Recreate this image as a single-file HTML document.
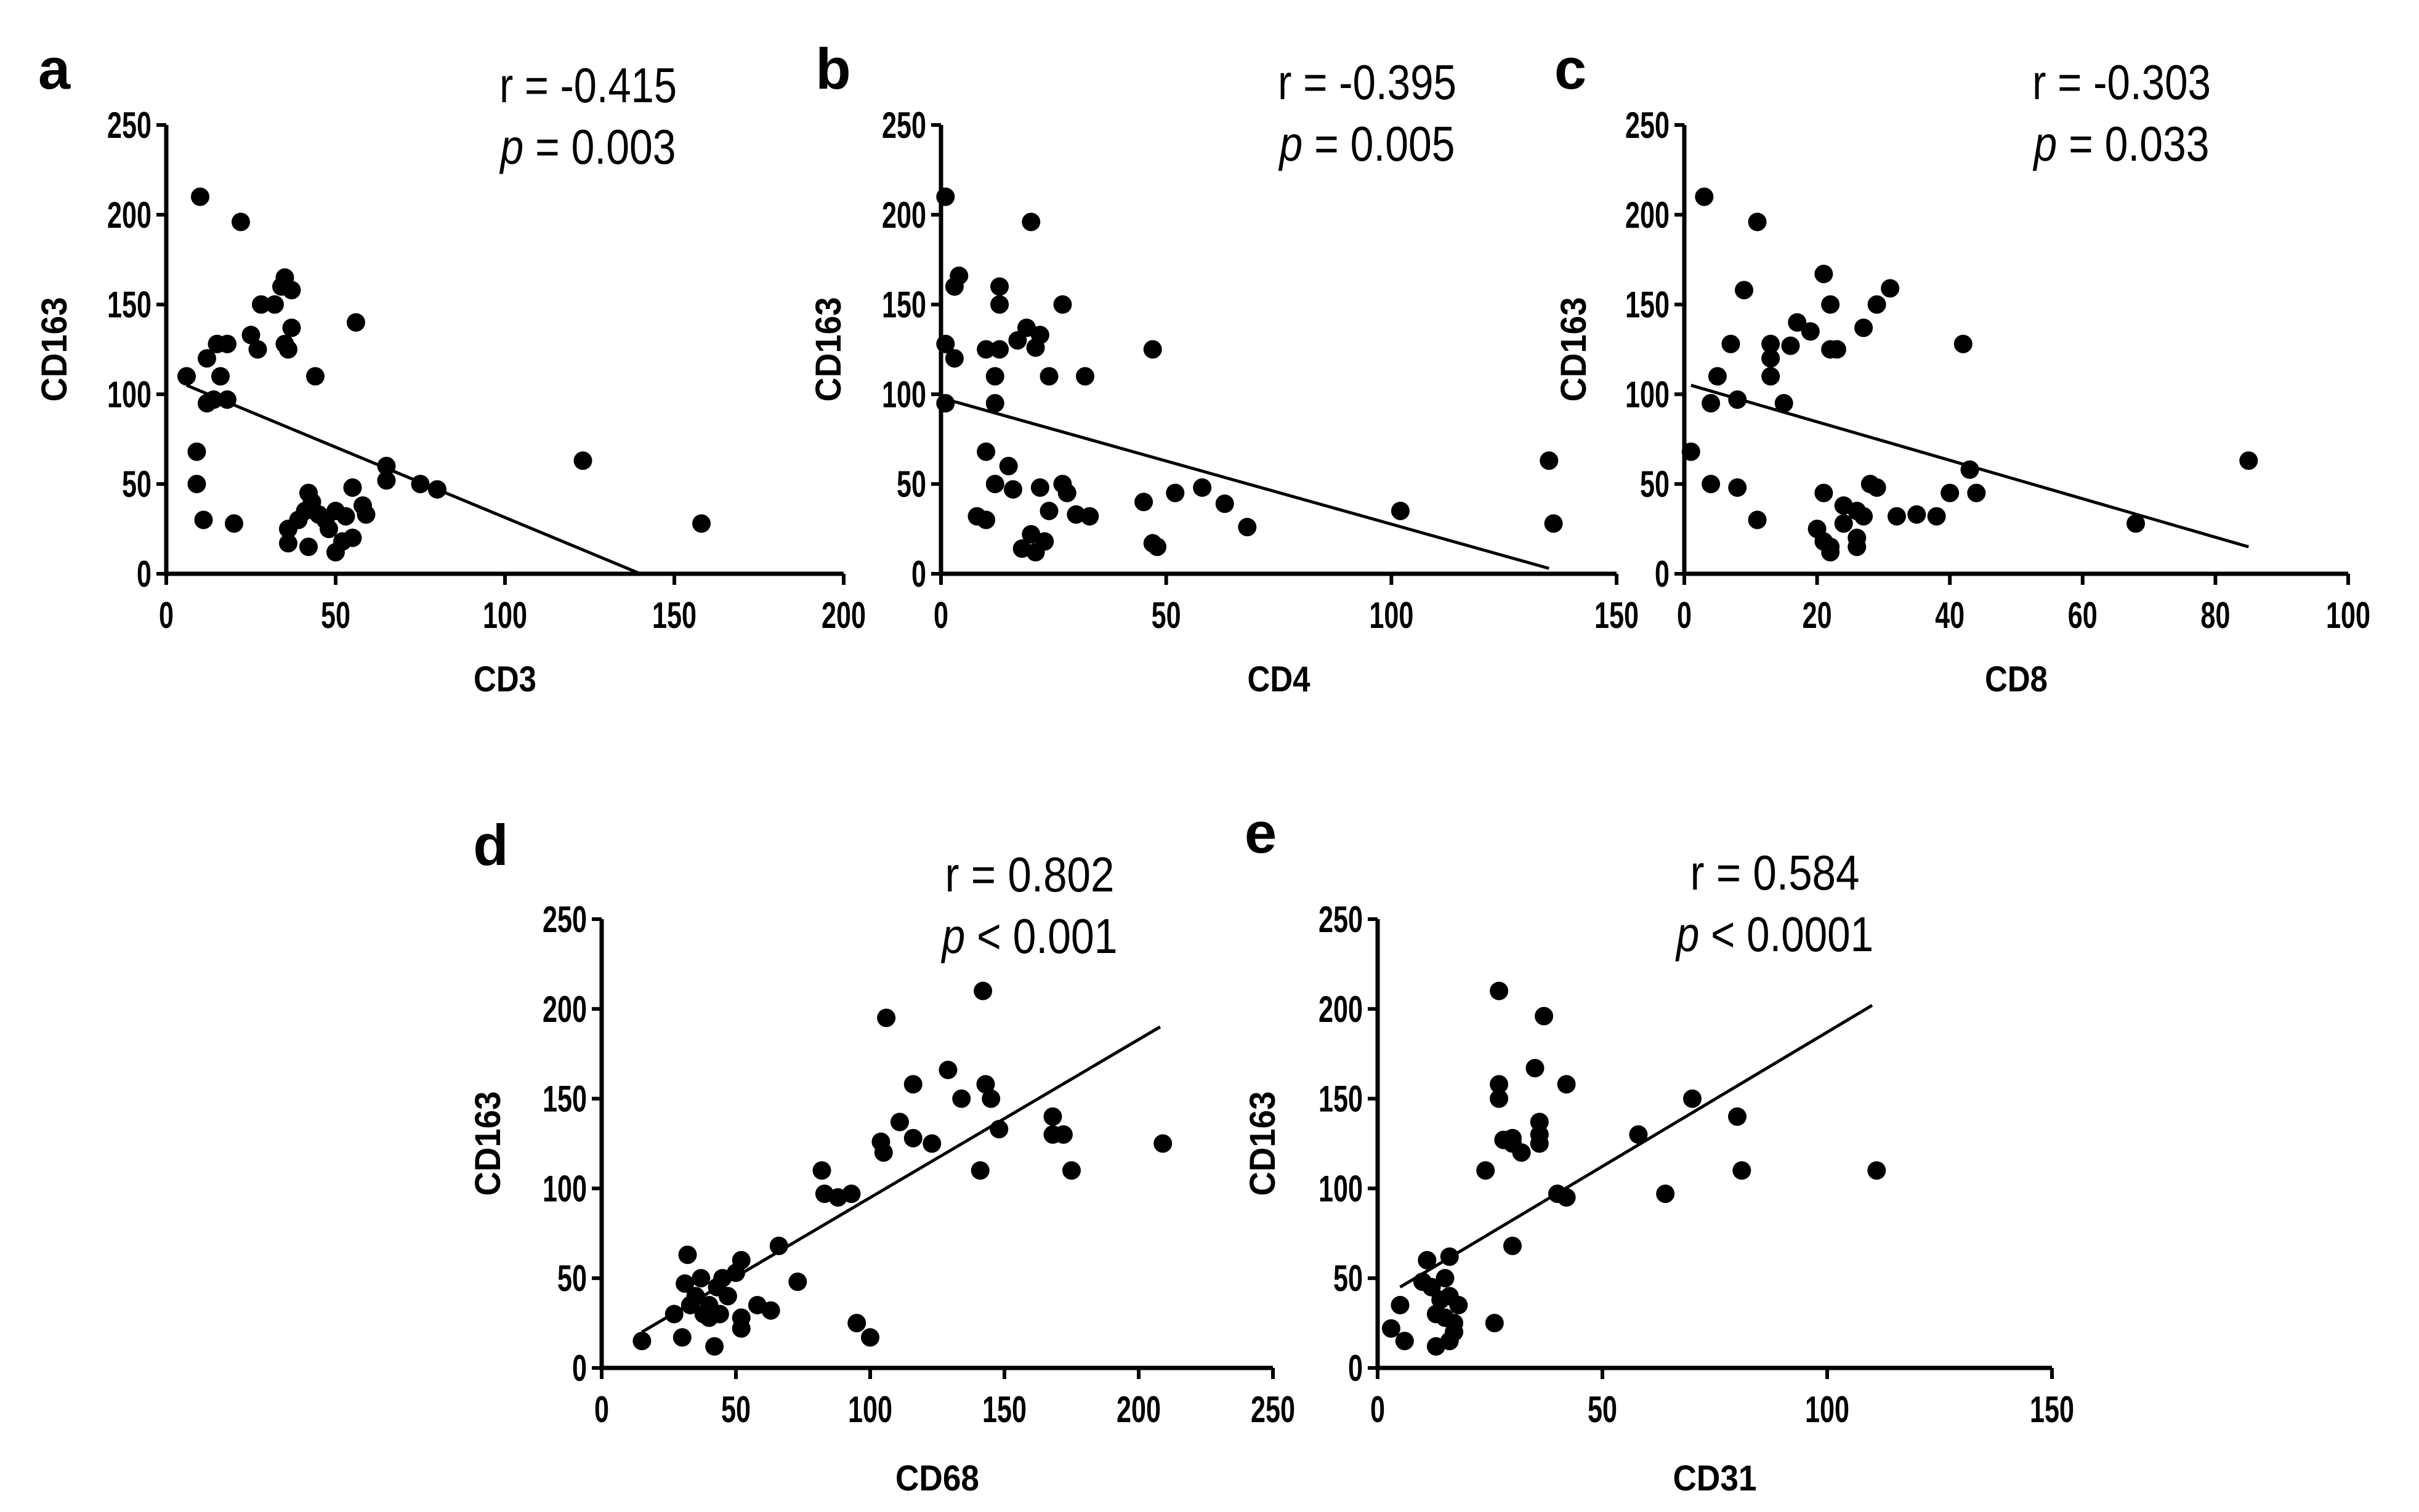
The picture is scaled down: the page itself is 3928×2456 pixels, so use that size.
<!DOCTYPE html>
<html><head><meta charset="utf-8"><style>
html,body{margin:0;padding:0;background:#fff;}
svg{display:block;}
text{font-family:"Liberation Sans",sans-serif;}
</style></head><body>
<svg id="fig" width="3928" height="2456" viewBox="0 0 3928 2456" xmlns="http://www.w3.org/2000/svg"></svg>
<script>
const aX=[10,22,35,34,37,32,28,25,35,37,36,27,56,44,15,18,12,16,6,12,18,14,9,9,11,20,65,65,75,80,123,158,42,43,41,45,47,50,53,55,58,59,36,36,42,50,52,55,48,39];
const aY=[210,196,165,160,158,150,150,133,128,137,125,125,140,110,128,128,120,110,110,95,97,97,68,50,30,28,60,52,50,47,63,28,45,40,35,33,30,35,32,48,38,33,25,17,15,12,18,20,25,30];
const aFit=[[6,105],[140,0]];
const bX=[1,20,4,3,13,13,27,1,3,10,13,17,19,22,21,12,24,32,47,1,12,10,15,8,10,12,16,22,27,28,24,30,33,20,23,18,21,45,52,58,63,68,47,48,102,135,136];
const bY=[210,196,166,160,160,150,150,128,120,125,125,130,137,133,126,110,110,110,125,95,95,68,60,32,30,50,47,48,50,45,35,33,32,22,18,14,12,40,45,48,39,26,17,15,35,63,28];
const bFit=[[0,98],[135,3]];
const cX=[3,11,21,9,31,29,22,17,19,13,16,22,23,27,13,42,7,13,5,4,8,15,1,4,8,11,21,24,26,27,29,28,32,35,38,40,43,44,20,21,22,24,26,22,26,68,85];
const cY=[210,196,167,158,159,150,150,140,135,128,127,125,125,137,120,128,128,110,110,95,97,95,68,50,48,30,45,38,35,32,48,50,32,33,32,45,58,45,25,18,15,28,20,12,15,28,63];
const cFit=[[1,105],[85,15]];
const dX=[15,27,30,32,31,37,35,33,38,40,43,45,42,40,44,47,50,52,52,52,58,63,66,73,82,83,88,93,95,100,104,105,106,111,116,116,123,129,134,141,142,143,145,148,168,168,172,175,209];
const dY=[15,30,17,63,47,50,40,35,30,28,45,50,12,35,30,40,53,60,22,28,35,32,68,48,110,97,95,97,25,17,126,120,195,137,158,128,125,166,150,110,210,158,150,133,140,130,130,110,125];
const dFit=[[15,20],[208,190]];
const eX=[3,5,6,10,11,12,13,13,14,15,15,16,16,17,18,17,16,24,26,27,27,27,28,30,30,30,32,35,36,36,36,37,40,42,42,58,64,70,80,81,111];
const eY=[22,35,15,48,60,45,30,12,38,28,50,62,40,20,35,25,15,110,25,210,158,150,127,125,128,68,120,167,137,130,125,196,97,95,158,130,97,150,140,110,110];
const eFit=[[5,45],[110,202]];
const yTicks=[0,50,100,150,200,250];
const ticksA=[0,50,100,150,200], ticksB=[0,50,100,150], ticksC=[0,20,40,60,80,100], ticksD=[0,50,100,150,200,250], ticksE=[0,50,100,150];

const svg=document.getElementById('fig');
const NS='http://www.w3.org/2000/svg';
function mk(tag,attrs,parent){const e=document.createElementNS(NS,tag);for(const k in attrs)e.setAttribute(k,attrs[k]);(parent||svg).appendChild(e);return e;}

function panel(o){
  const g=mk('g',{});
  
  
  const xmax=o.xt[o.xt.length-1];
  const sx=v=>o.x0+(v/xmax)*(o.x1-o.x0);
  const sy=v=>o.yb-(v/250)*(o.yb-o.yt);
  const ax=mk('path',{d:`M${o.x0} ${o.yt} V${o.yb} H${o.x1}`,stroke:'#000','stroke-width':7,fill:'none'},g);
  
  
  yTicks.forEach(t=>{
    mk('line',{x1:o.x0-16,x2:o.x0,y1:sy(t),y2:sy(t),stroke:'#000','stroke-width':6},g);
    const s=String(t);
    const tx=mk('text',{x:o.x0-24,y:sy(t)+21,'text-anchor':'end','font-size':60,'font-weight':'bold',textLength:s.length*24,lengthAdjust:'spacingAndGlyphs'},g);
    tx.textContent=s;
    
    
  });
  o.xt.forEach(t=>{
    mk('line',{x1:sx(t),x2:sx(t),y1:o.yb,y2:o.yb+18,stroke:'#000','stroke-width':6},g);
    const s=String(t);
    const tx=mk('text',{x:sx(t),y:o.yb+88,'text-anchor':'middle','font-size':60,'font-weight':'bold',textLength:s.length*24,lengthAdjust:'spacingAndGlyphs'},g);
    tx.textContent=s;
    
    
  });
  o.xs.forEach((v,i)=>{
    const c=mk('circle',{cx:sx(v),cy:sy(o.ys[i]),r:15,fill:'#000'},g);
    
    
  });
  const fl=mk('line',{x1:sx(o.fit[0][0]),y1:sy(o.fit[0][1]),x2:sx(o.fit[1][0]),y2:sy(o.fit[1][1]),stroke:'#000','stroke-width':5},g);
  
  
  const L=mk('text',{x:o.lx,y:o.ly+32,'text-anchor':'middle','font-size':94,'font-weight':'bold'},g);
  L.textContent=o.letter;
  
  
  const yl=mk('text',{x:0,y:0,transform:`translate(${o.ylx+20},${(o.yt+o.yb)/2}) rotate(-90)`,'text-anchor':'middle','font-size':58,'font-weight':'bold',textLength:170,lengthAdjust:'spacingAndGlyphs'},g);
  yl.textContent='CD163';
  
  
  const xl=mk('text',{x:(o.x0+o.x1)/2,y:o.xly+21,'text-anchor':'middle','font-size':58,'font-weight':'bold',textLength:o.xlab.length*34,lengthAdjust:'spacingAndGlyphs'},g);
  xl.textContent=o.xlab;
  
  
  const r=mk('text',{x:o.rx,y:o.ry+28,'text-anchor':'middle','font-size':80,textLength:o.rw,lengthAdjust:'spacingAndGlyphs'},g);
  r.textContent=o.r;
  
  
  const p=mk('text',{x:o.rx,y:o.ry+128,'text-anchor':'middle','font-size':80,textLength:o.pw,lengthAdjust:'spacingAndGlyphs'},g);
  p.innerHTML='<tspan font-style="italic">p</tspan>'+o.p;
  
  
}
panel({letter:'a',x0:270,x1:1370,yt:203,yb:932,xt:ticksA,xs:aX,ys:aY,fit:aFit,lx:88,ly:112,ylx:88,xlab:'CD3',xly:1102,r:'r = -0.415',p:' = 0.003',rx:955,ry:138,rw:288,pw:285});
panel({letter:'b',x0:1528,x1:2625,yt:203,yb:932,xt:ticksB,xs:bX,ys:bY,fit:bFit,lx:1353,ly:112,ylx:1345,xlab:'CD4',xly:1102,r:'r = -0.395',p:' = 0.005',rx:2220,ry:133,rw:290,pw:285});
panel({letter:'c',x0:2735,x1:3813,yt:203,yb:932,xt:ticksC,xs:cX,ys:cY,fit:cFit,lx:2550,ly:112,ylx:2555,xlab:'CD8',xly:1102,r:'r = -0.303',p:' = 0.033',rx:3445,ry:133,rw:290,pw:285});
panel({letter:'d',x0:977,x1:2067,yt:1493,yb:2222,xt:ticksD,xs:dX,ys:dY,fit:dFit,lx:797,ly:1373,ylx:792,xlab:'CD68',xly:2400,r:'r = 0.802',p:' < 0.001',rx:1672,ry:1420,rw:275,pw:285});
panel({letter:'e',x0:2237,x1:3332,yt:1493,yb:2222,xt:ticksE,xs:eX,ys:eY,fit:eFit,lx:2047,ly:1353,ylx:2050,xlab:'CD31',xly:2400,r:'r = 0.584',p:' < 0.0001',rx:2882,ry:1417,rw:275,pw:320});
</script>
</body></html>
